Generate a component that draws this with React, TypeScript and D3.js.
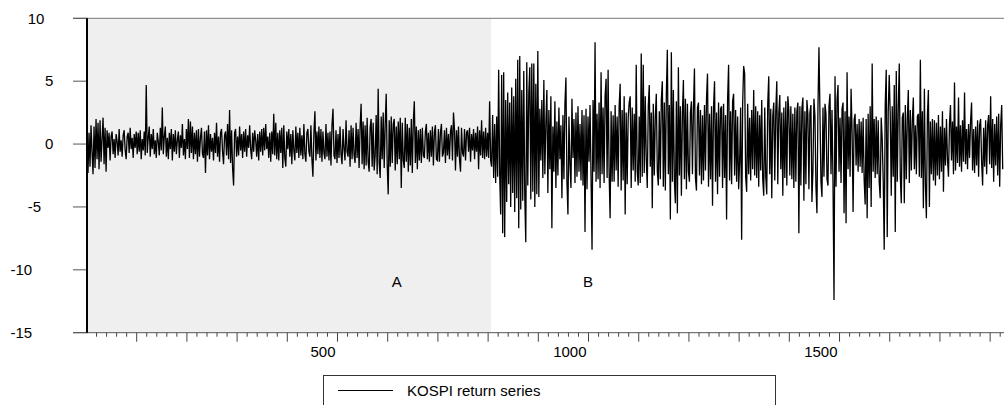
import { useMemo } from "react";
import * as d3 from "d3";

// KOSPI returns (%) at about one value per pixel column,
// i.e. every second observation. Each chunk starts at the observation in chunkStarts.
const ret0001 = [
  1.2, -2.3, 0.9, -1.8, 1.5, -0.6, -2.4, 1.4, -1.9, 2.0, -1.2, 1.7, -2.0, 1.9, -1.4, 0.4, 2.1, -1.6, 1.3, -2.2, 1.1, -0.3, 0.9, -1.3, 0.6,
  1.0, -0.8, 0.4, -1.1, 0.8, 0.2, -0.9, 1.2, -0.6, 0.3, -1.0, 0.7, 1.1, -0.5, -1.2, 0.6, 0.9, -0.7, 1.3, -0.4, 0.5, -1.1, 0.8, -0.3, 1.0,
];
const ret0101 = [
  -0.8, 0.9, -0.6, 1.1, -1.2, 0.4, -0.5, 1.0, -0.9, 4.7, -0.7, 0.5, 1.4, -1.0, 0.8, -0.4, 1.2, -0.8, 0.3, -1.1, 0.9, 0.2, -0.9, 1.3, -0.5,
  2.9, -0.8, 0.6, 1.4, -1.0, 0.5, -1.2, 0.9, -0.4, 1.2, -1.3, 0.8, -0.6, 1.1, -0.8, 0.3, 1.0, -1.1, 0.7, -0.3, 1.6, -0.9, 0.4, -1.2, 1.2,
];
const ret0201 = [
  -0.4, 2.0, -1.1, 1.8, -0.7, 1.4, -1.2, 0.9, -0.8, 1.1, -1.4, 1.2, -1.0, 0.5, 1.3, -0.8, -1.1, 1.0, -2.3, 1.1, -0.9, 1.5, -1.2, 0.8, -0.6,
  0.5, -1.3, 0.9, -0.7, 1.7, -1.0, 0.6, -1.4, 0.9, 1.2, -0.6, -1.6, 0.7, 1.0, -0.9, 1.6, -1.2, 2.7, -1.5, 1.1, -1.9, -3.3, 0.9, 1.2, -1.0,
];
const ret0301 = [
  0.6, -0.9, 1.4, -0.5, 0.8, -1.1, 1.0, -0.6, 1.2, -1.0, 0.7, -0.3, 1.5, -0.4, -1.2, 0.9, -0.6, 1.1, 0.3, -1.0, 0.8, -1.3, 1.0, -0.6, 1.2,
  -0.9, 1.3, -0.5, 1.6, -0.4, 0.6, -1.1, 0.9, -1.4, 1.0, -0.8, 2.4, -0.9, 1.7, -1.2, 0.9, -1.3, 1.1, -0.7, 1.3, -1.9, 1.5, -1.1, -1.8, 1.0,
];
const ret0401 = [
  -0.4, 1.2, -1.0, 0.8, -1.6, 1.1, -0.5, -1.3, 1.4, -0.7, 0.9, -1.1, 1.3, -0.9, 0.7, -1.2, 1.6, -0.8, -1.4, 0.9, 1.2, -0.6, -1.0, 1.5, -1.2,
  -2.6, 0.9, 2.6, -1.3, 1.0, -0.8, 1.4, -1.1, 1.2, -1.4, 1.0, -0.7, -1.2, 1.6, -1.0, 0.9, -1.3, 1.0, -1.7, 1.5, 2.8, -0.9, -1.2, 1.1, -1.5,
];
const ret0501 = [
  0.8, -1.1, 1.4, -0.8, -1.6, 1.2, -0.4, -1.3, 1.9, -0.6, -1.0, 1.1, -1.8, 1.5, -1.2, 1.3, -0.9, -1.5, 1.7, -1.1, 1.2, -1.9, 1.4, 3.2, -1.6,
  1.8, -2.0, 1.5, -1.7, 2.1, -1.4, -2.2, 1.3, 2.0, -1.8, 1.7, -2.1, -0.9, 2.3, -2.4, 4.4, -1.5, -2.7, 2.2, -1.2, 2.5, -1.9, 1.6, 4.0, -1.7,
];
const ret0601 = [
  -4.0, 1.9, -1.8, 2.2, -1.5, 1.6, 2.0, -2.1, 1.4, -1.6, 1.8, -1.2, 2.1, -3.5, 1.7, -1.3, -1.9, 2.1, -1.4, 1.6, -2.2, 1.3, -1.7, 2.0, -2.3,
  1.8, 3.4, -1.5, 1.4, -2.0, 1.1, -1.3, 1.2, -1.5, 1.3, -0.9, -1.1, 1.0, 1.6, -1.2, 0.9, -1.4, 1.1, -1.0, 1.4, -1.7, 0.9, 1.5, -1.2, -1.3,
];
const ret0701 = [
  1.2, -1.4, 0.9, 1.6, -1.0, -0.7, 1.1, -1.5, 1.3, -0.9, 0.8, -1.2, 1.0, 1.5, -1.3, 2.5, 1.2, -2.1, 1.1, -1.0, 1.4, -1.2, -2.2, 1.3, -0.7,
  -1.0, 1.2, -1.3, 0.9, 1.1, -0.6, 1.3, -1.4, 0.8, -0.5, 1.2, -1.2, 0.9, -0.6, 1.4, -2.0, 1.1, -0.9, 1.9, -1.1, 1.0, -1.2, 1.3, -1.0, 0.9,
  -1.1, 3.4, -1.3,
];
const ret0807 = [
  -1.8, 2.3, -2.7, 1.6, -3.1, 2.2, -2.6, 5.9, -2.4, -5.6, 5.5, -7.1, 5.7, -7.4, 3.5, -4.6, 4.1, -3.2, 3.3, -5.0,
  4.5, -3.9, 3.8, -5.4, 5.2, -4.3, 6.7, -6.7, 7.0, -5.2, 4.3, -4.5, 5.8, -4.1, -7.8, 6.5, -3.3, 4.0, 6.1, -4.4,
  6.4, -3.8, 6.4, -5.0, 4.8, -4.0, 7.4,
];
const ret0901 = [
  -4.2, 2.8, -1.3, 3.5, -2.7, 5.1, -2.4, 1.6, 4.3, -3.9, 2.7, -2.0, 3.8, -6.7, 1.4, -2.2, 3.4, -3.5, 1.8, -2.5,
  2.9, -1.2, 1.5, -4.3, 2.3, -2.8, 3.2, 5.3, -3.0, -5.6, 2.2, -1.6, -3.5, 3.6, -1.1, 2.0, -3.1, 2.5, -2.6, 3.0,
  -2.2, 1.6, -2.9, 2.7, -3.3, 2.3, -7.0, 2.8, -3.6, 2.2,
];
const ret1001 = [
  -1.4, 3.1, -2.5, -8.4, 3.5, -2.2, 8.1, -3.0, 2.4, -2.8, 3.3, -3.5, 5.7, -2.4, 2.9, -3.1, 3.8, 5.2, -2.7, 5.9,
  -2.3, -5.9, 2.6, -3.0, 2.3, -3.0, 3.1, -2.1, 2.2, -3.4, 3.0, 4.8, -3.7, 2.7, -2.9, 3.8, -5.6, 2.5, -3.2, 2.1,
  3.3, 3.8, -3.5, 2.9, -2.1, 2.4, -3.0, 6.3, -2.2, -3.3,
];
const ret1101 = [
  2.2, -3.1, 7.2, -2.6, 6.3, -2.3, 3.8, -1.1, -3.5, 3.0, 4.7, -1.8, 2.5, -5.1, 3.2, -2.5, 2.1, 4.0, -2.2, -3.3,
  2.6, -2.8, 3.5, 5.0, -3.4, 3.3, -3.7, 3.9, 7.5, -2.4, 3.1, -6.0, 7.3, -3.0, 4.3, -2.9, -4.7, 3.4, -5.5, 6.1,
  -2.5, 3.0, -4.1, 2.4, 5.1, -2.8, 3.6, -3.6, 3.2, -2.2,
];
const ret1201 = [
  -3.0, 2.5, 3.4, -2.4, 2.8, 6.0, -2.7, -3.7, 2.9, 3.3, -2.5, 2.7, -3.2, 2.3, -2.9, 3.1, -2.1, 3.6, 5.6, -3.4,
  2.4, -2.8, 3.0, -4.9, 2.9, 5.0, -3.0, 2.5, -4.0, 3.3, -2.6, 2.8, 3.0, -3.5, 3.2, -2.7, 2.3, -6.0, 3.5, 6.3,
  -2.9, 2.6, -3.2, 3.4, 4.0, -2.5, 2.7, -3.0, 2.2, -3.6,
];
const ret1301 = [
  -1.4, 2.9, -7.6, 3.1, 6.2, 5.6, -2.6, -3.8, 3.2, -2.4, 2.1, -2.9, 2.7, -2.0, 4.3, -2.5, 3.0, -2.7, 2.6, -3.4,
  2.3, -2.1, 3.5, -2.8, -4.1, 2.9, -2.6, -4.0, 3.2, 5.4, -2.4, 2.8, -4.3, 2.2, 3.3, -2.9, 2.6, 5.0, -3.2, 2.4,
  3.9, -2.0, 2.5, -4.1, 2.9, -2.7, 3.4, -3.3, 3.8, 2.7,
];
const ret1401 = [
  -2.5, 3.0, -2.8, 2.4, -3.5, 2.9, -3.0, 2.6, 3.3, -7.1, 3.0, -3.3, 2.8, 3.7, -4.5, 2.6, -3.2, 3.5, 2.3, -3.6,
  2.5, 3.1, -4.6, -2.1, 3.6, 2.2, -3.4, -5.5, 2.8, 7.7, 2.4, -3.0, -4.2, 2.9, -2.6, 3.2, 2.4, -2.8, -3.3, 3.0,
  4.0, -2.4, 2.7, -3.1, -12.4, 5.4, -3.4, 3.5, 4.7, -2.2,
];
const ret1501 = [
  2.1, -3.1, 2.8, 3.3, -5.5, 2.6, -6.3, 5.7, -2.0, 2.2, -2.6, 4.4, 1.0, -5.4, 1.9, 2.4, -1.7, 1.6, -2.2, 2.0,
  -1.8, 1.8, -2.3, 2.1, -2.8, -4.8, 2.0, -5.9, 2.4, -3.5, 3.0, -5.0, 6.4, -2.2, 2.0, -2.7, 2.2, -2.4, 1.9, -3.0,
  -4.3, 2.1, 0.4, -2.9, -8.4, 3.1, 5.9, -7.4, 2.6, 5.5,
];
const ret1601 = [
  2.3, -4.1, 3.0, -2.6, 4.7, -7.0, 5.8, -3.0, 2.9, 6.4, -2.5, -4.7, 2.1, 2.5, -4.7, 3.1, -2.8, 2.0, 4.3, -3.1,
  2.7, -2.1, 1.8, 3.7, -2.0, 1.5, -2.4, 2.2, 2.4, -2.6, 6.7, -2.7, 2.6, -5.1, 4.4, -3.2, -5.9, 2.2, 4.3, -5.0,
  1.8, -2.4, 2.0, -2.9, 1.9, -3.3, 1.7, -2.5, 2.3, -2.8,
];
const ret1701 = [
  1.4, -2.2, 2.6, -3.8, 1.3, -1.7, 2.0, -1.2, -2.6, 1.6, 3.1, -1.3, 1.8, -2.4, 4.9, -2.1, 1.4, -1.5, 3.7, -1.8,
  1.5, -2.2, 1.9, -1.4, 4.1, -1.6, 1.2, -2.0, 1.6, -1.1, 1.8, 3.3, -2.1, 1.2, -2.3, 1.4, -1.7, 1.9, -2.6, 1.5,
  2.0, -1.4, -3.3, 1.3, -1.8, 1.9, -2.4, 1.5, 2.3, -1.6, 3.8, -1.9, 2.0, -3.0, 1.6, -1.7, 2.2, -2.5, 2.4, -3.4,
  1.5, 3.1, -2.0,
];

const chunkStarts = [1, 101, 201, 301, 401, 501, 601, 701, 807, 901, 1001, 1101, 1201, 1301, 1401, 1501, 1601, 1701];
const chunkValues = [
  ret0001, ret0101, ret0201, ret0301, ret0401, ret0501, ret0601, ret0701, ret0807,
  ret0901, ret1001, ret1101, ret1201, ret1301, ret1401, ret1501, ret1601, ret1701,
];
const obsStep = 2;

// sub-period A (shaded) and B
const periodA = [0, 806];
const periodLabels = ["A", "B"];
const periodLabelObs = [618, 999];
const periodLabelLevel = -10.95;

const xDomain = [0, 1826];
const yDomain = [-15, 10];
const yTicks = [-15, -10, -5, 0, 5, 10];
const xMinorStep = 20;
const xMajorStep = 100;
const xLabels = [500, 1000, 1500];
const legendLabel = "KOSPI return series";

const W = 1004;
const H = 405;
const FONT = "'Liberation Sans', Arial, Helvetica, sans-serif";

export default function App() {
  const x = d3.scaleLinear().domain(xDomain).range([86.5, 1003.2]);
  const y = d3.scaleLinear().domain(yDomain).range([332.7, 18.3]);

  const points = useMemo(
    () =>
      chunkValues.flatMap((vals, k) =>
        vals.map((v, i) => ({ obs: chunkStarts[k] + i * obsStep, v })),
      ),
    [],
  );

  const line = d3
    .line<{ obs: number; v: number }>()
    .x((d) => x(d.obs))
    .y((d) => y(d.v));

  const minorTicks = d3.range(xMinorStep, xDomain[1], xMinorStep);
  const axisY = y(yDomain[0]);
  const top = y(yDomain[1]);
  const left = 87.5;

  return (
    <svg
      width={W}
      height={H}
      viewBox={`0 0 ${W} ${H}`}
      style={{ position: "absolute", left: 0, top: 0, background: "#fff" }}
      fontFamily={FONT}
      fontSize={15}
    >
      <defs>
        <clipPath id="plot">
          <rect x={left} y={top} width={W - left} height={axisY - top} />
        </clipPath>
      </defs>

      <rect x={left} y={top} width={x(periodA[1]) - left} height={axisY - top} fill="#efefef" />

      {/* top frame */}
      <line x1={73} x2={W} y1={top} y2={top} stroke="#777" strokeWidth={1} />

      {/* y ticks and labels */}
      {yTicks.map((t) => {
        const s = String(t);
        return (
          <g key={t}>
            <line x1={73} x2={left} y1={y(t)} y2={y(t)} stroke="#555" strokeWidth={1} />
            <text x={45 - 17.3 * (s.length - 1)} y={y(t) + 5.3} fill="#000">
              {s}
            </text>
          </g>
        );
      })}

      {/* x axis */}
      <line x1={73} x2={W} y1={axisY} y2={axisY} stroke="#555" strokeWidth={1} />
      {minorTicks.map((t) => (
        <line
          key={t}
          x1={x(t)}
          x2={x(t)}
          y1={axisY}
          y2={axisY + (t % xMajorStep === 0 ? 9 : 4)}
          stroke="#444"
          strokeWidth={1}
        />
      ))}
      {xLabels.map((t) => (
        <text key={t} x={x(t) - 2} y={356.5} textAnchor="end" fill="#000">
          {t}
        </text>
      ))}

      {/* series */}
      <path
        d={line(points) ?? ""}
        fill="none"
        stroke="#000"
        strokeWidth={1.3}
        strokeLinejoin="miter"
        clipPath="url(#plot)"
      />

      {/* y axis */}
      <line x1={left - 0.5} x2={left - 0.5} y1={top} y2={axisY} stroke="#000" strokeWidth={2} />

      {periodLabels.map((lab, i) => (
        <text
          key={lab}
          x={x(periodLabelObs[i])}
          y={y(periodLabelLevel) + 5.3}
          textAnchor="middle"
          fill="#000"
        >
          {lab}
        </text>
      ))}

      {/* legend */}
      <rect x={323.5} y={375.5} width={452} height={40} fill="#fff" stroke="#333" strokeWidth={1} />
      <line x1={338} x2={393} y1={390.5} y2={390.5} stroke="#000" strokeWidth={1} />
      <text x={407} y={395.5} fill="#000">
        {legendLabel}
      </text>
    </svg>
  );
}
